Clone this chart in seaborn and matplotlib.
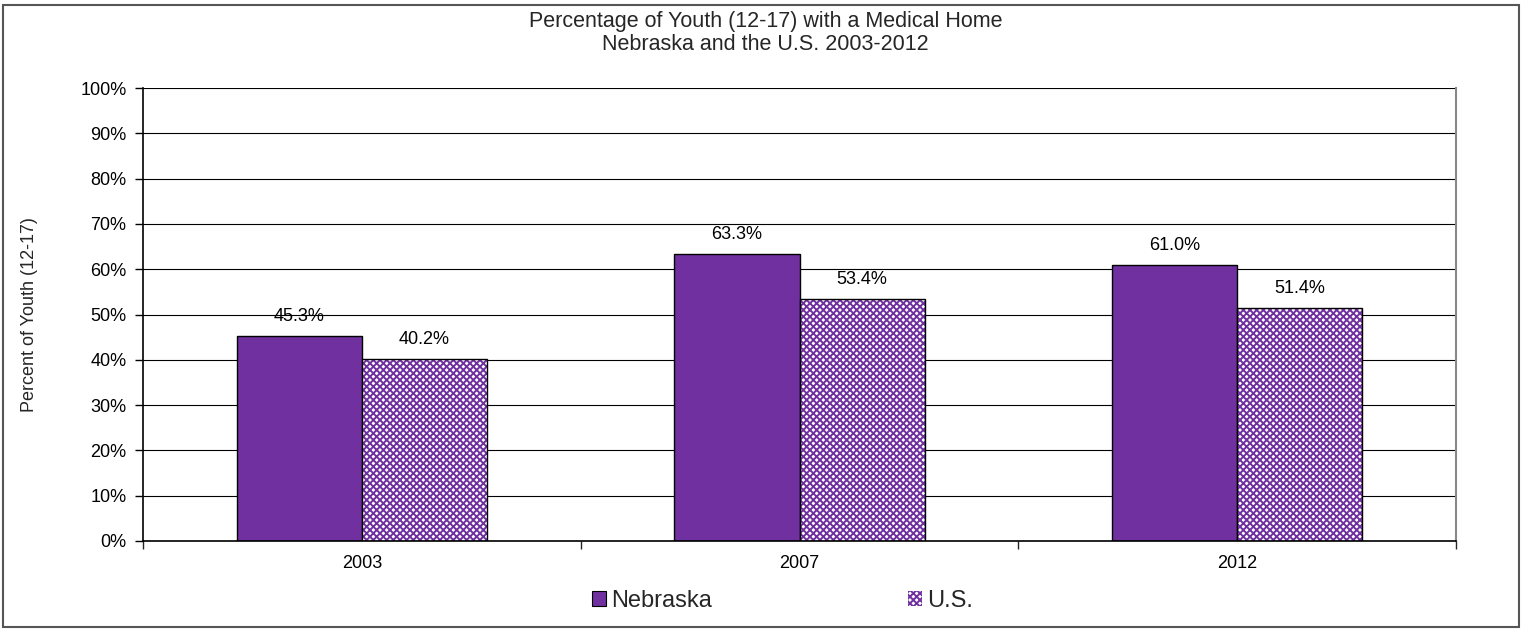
import numpy as np
import pandas as pd
import matplotlib
matplotlib.use("Agg")
import matplotlib.pyplot as plt
import seaborn as sns
from matplotlib.patches import Patch, Rectangle
from matplotlib.ticker import FuncFormatter, MultipleLocator

# Data
years = ["2003", "2007", "2012"]
nebraska = [45.3, 63.3, 61.0]
us = [40.2, 53.4, 51.4]
series = ["Nebraska", "U.S."]

purple = "#7030A0"

df = pd.DataFrame({
    "year": years * 2,
    "pct": nebraska + us,
    "area": ["Nebraska"] * 3 + ["U.S."] * 3,
})

sns.set_theme(style="white")
plt.rcParams["font.family"] = ["Liberation Sans", "DejaVu Sans"]
plt.rcParams["hatch.linewidth"] = 1.4

fig = plt.figure(figsize=(15.25, 6.29), dpi=100)
ax = fig.add_axes([0.0938, 0.140, 0.861, 0.720])

sns.barplot(data=df, x="year", y="pct", hue="area", hue_order=series,
            palette={"Nebraska": purple, "U.S.": purple}, width=0.572,
            edgecolor="black", linewidth=1.0, saturation=1, legend=False, ax=ax)

# U.S. bars: fine purple check pattern with black outline
for cont in ax.containers[1:]:
    for p in cont.patches:
        p.set_facecolor("white")
        p.set_edgecolor(purple)
        p.set_hatch("xxxxx")
        p.set_linewidth(0)
        ax.add_patch(Rectangle((p.get_x(), p.get_y()), p.get_width(), p.get_height(),
                               fill=False, edgecolor="black", linewidth=1.0, zorder=p.get_zorder() + 0.1))

for cont in ax.containers:
    ax.bar_label(cont, fmt="%.1f%%", padding=8, fontsize=13, color="black")

ax.set_ylim(0, 100)
ax.yaxis.set_major_locator(MultipleLocator(10))
ax.yaxis.set_major_formatter(FuncFormatter(lambda v, _: f"{v:.0f}%"))
ax.set_xlim(-0.5, 2.5)
ax.grid(axis="y", color="black", linewidth=0.8)
ax.set_axisbelow(True)

ax.set_xlabel("")
ax.set_ylabel("Percent of Youth (12-17)", fontsize=13, labelpad=30)
ax.tick_params(axis="both", labelsize=13, colors="black")
ax.tick_params(axis="y", direction="out", length=6, width=1, left=True, pad=6)
ax.set_xticks([0, 1, 2])
ax.set_xticks([-0.5, 0.5, 1.5, 2.5], minor=True)
ax.tick_params(axis="x", which="major", length=0, pad=10)
ax.tick_params(axis="x", which="minor", direction="out", length=6, width=1, bottom=True)

for s in ["left", "bottom"]:
    ax.spines[s].set_color("black")
    ax.spines[s].set_linewidth(1.2)
ax.spines["right"].set_color("#888888")
ax.spines["right"].set_linewidth(1.5)
ax.spines["top"].set_visible(False)

fig.text(0.502, 0.982, "Percentage of Youth (12-17) with a Medical Home\nNebraska and the U.S. 2003-2012",
         ha="center", va="top", fontsize=15.5, linespacing=1.1)

handles = [
    Patch(facecolor=purple, edgecolor="black", linewidth=0.8, label="Nebraska"),
    Patch(facecolor="white", edgecolor=purple, hatch="xxxxx", linewidth=0, label="U.S."),
]
fig.legend(handles=handles, loc="center", bbox_to_anchor=(0.513, 0.045), ncol=2,
           frameon=False, fontsize=17, handlelength=0.6, handleheight=0.6,
           handletextpad=0.2, columnspacing=8.3)

fig.add_artist(Rectangle((0.002, 0.003), 0.994, 0.989, transform=fig.transFigure,
                         fill=False, edgecolor="#555555", linewidth=1.5))

fig.savefig("out.png", dpi=100)
